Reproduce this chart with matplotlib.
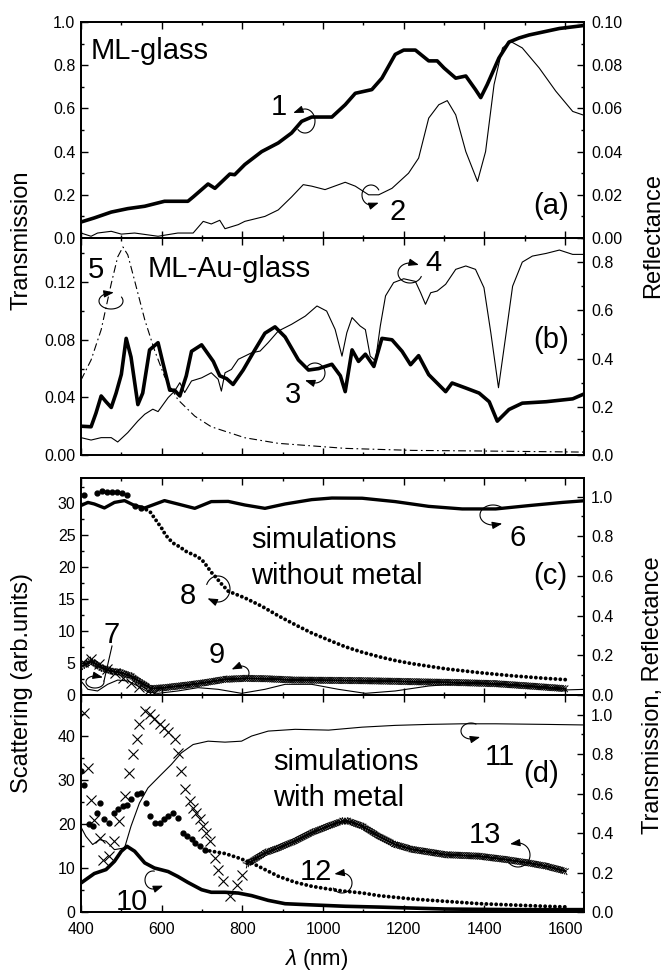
import numpy as np
import matplotlib
matplotlib.use("Agg")
import matplotlib.pyplot as plt
import matplotlib.patheffects as pe
from matplotlib.ticker import MultipleLocator, FormatStrFormatter
from matplotlib.patches import FancyArrowPatch
from matplotlib.path import Path
from matplotlib.lines import Line2D

plt.rcParams["font.family"] = ["Liberation Sans", "DejaVu Sans"]
plt.rcParams["mathtext.fontset"] = "custom"
plt.rcParams["mathtext.rm"] = "Liberation Sans"
plt.rcParams["mathtext.it"] = "Liberation Sans:italic"

# ---- (a) ML-glass ----
a1_nm = [400, 433, 475, 516, 558, 607, 665, 678, 715, 732, 769, 781, 806, 848, 889, 922, 947, 972, 1022, 1055,
         1080, 1121, 1146, 1179, 1200, 1229, 1262, 1283, 1300, 1329, 1354, 1378, 1391, 1407, 1436, 1461, 1486,
         1511, 1536, 1586, 1652]
a1_T = [0.074, 0.093, 0.12, 0.136, 0.147, 0.17, 0.17, 0.19, 0.25, 0.23, 0.296, 0.293, 0.34, 0.40, 0.44, 0.486,
        0.54, 0.56, 0.56, 0.617, 0.67, 0.687, 0.74, 0.85, 0.87, 0.87, 0.82, 0.82, 0.787, 0.74, 0.75, 0.687, 0.65,
        0.71, 0.833, 0.907, 0.926, 0.94, 0.95, 0.97, 0.985]
a2_nm = [400, 425, 441, 475, 500, 533, 591, 640, 678, 703, 723, 744, 757, 790, 806, 856, 889, 922, 951, 972,
         1005, 1055, 1080, 1113, 1138, 1171, 1212, 1237, 1262, 1287, 1308, 1329, 1354, 1383, 1403, 1424, 1445,
         1465, 1494, 1536, 1577, 1619, 1644]
a2_R = [0.0023, 0.0008, 0.0023, 0.0031, 0.0018, 0.0023, 0.0008, 0.0023, 0.0023, 0.0077, 0.0065, 0.0082, 0.0043,
        0.0062, 0.0077, 0.010, 0.013, 0.019, 0.0247, 0.024, 0.0224, 0.0258, 0.024, 0.020, 0.020, 0.023, 0.030,
        0.037, 0.0555, 0.0617, 0.0636, 0.057, 0.040, 0.0262, 0.040, 0.071, 0.088, 0.091, 0.088, 0.0787, 0.068,
        0.0586, 0.057]

# ---- (b) ML-Au-glass ----
b3_nm = [400, 425, 437, 450, 462, 475, 487, 500, 512, 524, 541, 553, 570, 591, 603, 620, 632, 645, 661, 674,
         699, 728, 744, 761, 777, 802, 831, 856, 881, 906, 939, 964, 989, 1022, 1043, 1055, 1072, 1088, 1105,
         1126, 1146, 1171, 1196, 1217, 1237, 1262, 1304, 1320, 1354, 1387, 1412, 1432, 1461, 1494, 1553, 1619,
         1652]
b3_T = [0.020, 0.0196, 0.029, 0.041, 0.037, 0.033, 0.043, 0.056, 0.081, 0.068, 0.035, 0.043, 0.073, 0.078,
        0.064, 0.045, 0.045, 0.041, 0.055, 0.072, 0.0765, 0.065, 0.055, 0.053, 0.049, 0.059, 0.073, 0.0846,
        0.089, 0.082, 0.066, 0.059, 0.060, 0.063, 0.055, 0.044, 0.073, 0.065, 0.070, 0.0615, 0.081, 0.080,
        0.072, 0.0627, 0.069, 0.0558, 0.044, 0.050, 0.0465, 0.043, 0.037, 0.0235, 0.0316, 0.036, 0.037, 0.039,
        0.043]
b4_nm = [400, 425, 450, 475, 491, 516, 541, 558, 578, 591, 616, 632, 645, 657, 674, 699, 723, 740, 748, 757,
         773, 790, 806, 823, 844, 864, 889, 922, 956, 985, 1009, 1030, 1047, 1059, 1072, 1092, 1105, 1117, 1130,
         1142, 1155, 1175, 1200, 1229, 1242, 1254, 1267, 1283, 1304, 1329, 1354, 1378, 1399, 1416, 1435, 1453,
         1470, 1494, 1519, 1553, 1586, 1619, 1652]
b4_R = [0.072, 0.062, 0.072, 0.072, 0.054, 0.093, 0.141, 0.169, 0.19, 0.18, 0.238, 0.265, 0.30, 0.259, 0.307,
        0.32, 0.341, 0.314, 0.265, 0.341, 0.355, 0.397, 0.41, 0.424, 0.431, 0.466, 0.514, 0.542, 0.576, 0.618,
        0.597, 0.521, 0.41, 0.507, 0.57, 0.535, 0.52, 0.41, 0.39, 0.535, 0.66, 0.715, 0.731, 0.72, 0.673, 0.625,
        0.673, 0.68, 0.708, 0.77, 0.784, 0.77, 0.694, 0.507, 0.279, 0.494, 0.70, 0.80, 0.825, 0.836, 0.85,
        0.832, 0.832]
b5_nm = [400, 425, 450, 475, 491, 504, 516, 533, 558, 582, 607, 640, 682, 723, 806, 889, 1055, 1221, 1387, 1652]
b5_T = [0.052, 0.066, 0.087, 0.119, 0.1376, 0.1445, 0.139, 0.121, 0.094, 0.073, 0.0546, 0.0385, 0.027, 0.0196,
        0.012, 0.0081, 0.0046, 0.0032, 0.0028, 0.002]

# ---- (c) simulations without metal ----
c6_nm = [400, 417, 433, 458, 483, 508, 533, 558, 607, 640, 682, 723, 765, 806, 856, 906, 972, 1022, 1097, 1179,
         1262, 1345, 1428, 1511, 1594, 1652]
c6_T = [0.955, 0.971, 0.963, 0.943, 0.971, 0.98, 0.955, 0.943, 0.98, 0.963, 0.941, 0.975, 0.976, 0.958, 0.941,
        0.963, 0.985, 0.993, 0.992, 0.975, 0.951, 0.938, 0.938, 0.955, 0.971, 0.98]
c7_nm = [400, 417, 441, 466, 491, 516, 541, 566, 591, 640, 690, 740, 798, 856, 906, 972, 1038, 1105, 1179, 1262,
         1345, 1428, 1511, 1594, 1652]
c7_S = [2.19, 0.89, 0.63, 1.67, 2.34, 2.19, 1.41, 0.47, 0.26, 0.63, 1.15, 0.89, 0.26, 0.89, 1.67, 1.67, 0.89,
        0.26, 0.63, 1.41, 1.82, 1.67, 1.30, 0.78, 0.89]
c8_sparse_nm = [407, 440, 451, 465, 477, 490, 502, 514, 533, 549]
c8_sparse_S = [31.25, 31.6, 31.9, 31.8, 31.7, 31.7, 31.6, 31.25, 29.5, 29.2]
c8_nm = [562, 572, 582, 591, 601, 609, 620, 632, 645, 655, 665, 678, 689, 699, 707, 715, 723, 732, 740, 748,
         757, 765, 806, 848, 889, 931, 972, 1014, 1055, 1097, 1138, 1179, 1221, 1304, 1387, 1470, 1553, 1602]
c8_S = [29.0, 28.6, 27.7, 26.9, 26.0, 25.1, 24.3, 23.6, 23.2, 22.7, 22.3, 22.0, 21.6, 21.2, 20.6, 19.9, 19.2,
        18.6, 18.0, 17.4, 16.8, 16.25, 15.2, 13.9, 12.4, 11.0, 9.7, 8.6, 7.55, 6.7, 6.0, 5.4, 4.9, 4.1, 3.5, 3.0,
        2.6, 2.4]
c9_nm = [404, 425, 450, 475, 500, 524, 549, 574, 607, 657, 707, 757, 806, 856, 931, 1014, 1097, 1179, 1262, 1345,
         1428, 1511, 1602]
c9_S = [4.53, 5.31, 4.27, 3.75, 3.49, 2.97, 1.93, 0.99, 1.15, 1.51, 1.93, 2.45, 2.60, 2.55, 2.34, 2.29, 2.24,
        2.14, 2.03, 1.93, 1.77, 1.41, 0.99]
c9_sparse_nm = [405, 425, 445, 465, 485, 505, 525, 545, 565, 580]
c9_sparse_S = [5.2, 5.6, 4.9, 4.1, 3.4, 2.6, 1.9, 1.2, 0.6, 0.3]

# ---- (d) simulations with metal ----
d10_nm = [400, 433, 462, 483, 500, 514, 533, 558, 582, 616, 640, 665, 699, 723, 757, 790, 823, 864, 906, 972,
          1055, 1138, 1221, 1304, 1470, 1594, 1652]
d10_R = [0.147, 0.195, 0.215, 0.257, 0.308, 0.333, 0.308, 0.249, 0.223, 0.205, 0.18, 0.15, 0.113, 0.10, 0.10,
         0.096, 0.083, 0.059, 0.042, 0.036, 0.029, 0.025, 0.02, 0.015, 0.012, 0.012, 0.012]
d11_nm = [400, 412, 429, 446, 462, 483, 508, 524, 545, 566, 595, 624, 649, 678, 715, 757, 798, 823, 864, 931,
          1014, 1097, 1179, 1262, 1345, 1428, 1553, 1652]
d11_T = [0.43, 0.384, 0.342, 0.367, 0.359, 0.316, 0.325, 0.435, 0.553, 0.629, 0.689, 0.748, 0.807, 0.849, 0.866,
         0.861, 0.866, 0.892, 0.917, 0.926, 0.922, 0.937, 0.946, 0.951, 0.954, 0.954, 0.951, 0.948]
d12_sparse_nm = [400, 408, 421, 429, 440, 448, 458, 470, 483, 491, 504, 514, 524, 539, 549, 562, 570, 584, 595,
                 606, 616, 628, 640, 653, 664, 674, 682, 694, 707]
d12_sparse_S = [31.97, 28.7, 19.85, 19.47, 22.5, 24.77, 20.98, 20.08, 22.5, 23.26, 24.02, 24.17, 25.53, 26.67,
                27.05, 24.77, 21.74, 20.23, 20.23, 20.98, 21.74, 22.5, 21.36, 17.95, 17.2, 16.44, 15.68, 14.92,
                14.02]
d12_nm = [707, 723, 757, 790, 823, 856, 889, 931, 972, 1022, 1055, 1097, 1138, 1221, 1304, 1387, 1470, 1553, 1602]
d12_S = [14.02, 13.79, 13.26, 12.27, 11.14, 9.62, 8.11, 6.74, 5.83, 5.08, 4.70, 4.32, 3.71, 2.95, 2.42, 1.89,
         1.59, 1.29, 1.14]
d13_sparse_nm = [408, 417, 425, 433, 446, 454, 470, 483, 495, 508, 520, 529, 539, 545, 558, 570, 582, 595, 607,
                 616, 632, 640, 649, 657, 669, 678, 686, 694, 703, 711, 719, 732, 740, 752, 769, 786, 798]
d13_sparse_S = [45.2, 32.7, 25.5, 20.8, 16.8, 11.9, 12.7, 16.1, 20.6, 26.3, 31.6, 35.8, 39.2, 42.6, 45.6, 44.8,
                43.7, 42.6, 41.8, 40.7, 39.2, 36.1, 32.0, 27.8, 25.2, 23.6, 22.5, 21.0, 19.5, 18.0, 16.1, 12.3,
                9.6, 7.0, 3.6, 6.2, 8.5]
d13_nm = [810, 856, 889, 931, 972, 1014, 1047, 1063, 1097, 1138, 1179, 1221, 1304, 1387, 1453, 1511, 1553, 1602]
d13_S = [10.8, 13.4, 14.5, 16.1, 18.0, 19.5, 20.6, 20.6, 19.5, 17.2, 15.3, 14.2, 13.0, 12.65, 11.9, 11.1, 10.4,
         9.24]

W, H = 666, 975
fig = plt.figure(figsize=(W / 100, H / 100), dpi=100)


def panel(top, bottom):
    return fig.add_axes([81 / W, 1 - bottom / H, 503 / W, (bottom - top) / H])


def fmt(ax, tw, ylim, tylim, maj, mnr, tmaj, tmnr, lf, rf, xlabels=False):
    ax.set_xlim(400, 1647)
    ax.set_ylim(*ylim)
    tw.set_ylim(*tylim)
    ax.xaxis.set_major_locator(MultipleLocator(200))
    ax.xaxis.set_minor_locator(MultipleLocator(100))
    ax.yaxis.set_major_locator(MultipleLocator(maj))
    ax.yaxis.set_minor_locator(MultipleLocator(mnr))
    tw.yaxis.set_major_locator(MultipleLocator(tmaj))
    tw.yaxis.set_minor_locator(MultipleLocator(tmnr))
    ax.yaxis.set_major_formatter(FormatStrFormatter(lf))
    tw.yaxis.set_major_formatter(FormatStrFormatter(rf))
    ax.tick_params(which="both", direction="in", top=True, bottom=True, right=False, width=1,
                   labelbottom=xlabels, labelsize=11.5, pad=4)
    ax.tick_params(axis="x", pad=7)
    tw.tick_params(which="both", direction="in", right=True, left=False, width=1, labelsize=11.5, pad=5)
    for a in (ax, tw):
        a.tick_params(which="major", length=5)
        a.tick_params(which="minor", length=2.5)
        for s in a.spines.values():
            s.set_linewidth(1.3)


ax_a = panel(22, 238)
ax_b = panel(238, 455)
ax_c = panel(478, 695)
ax_d = panel(695, 912)
tw_a, tw_b, tw_c, tw_d = ax_a.twinx(), ax_b.twinx(), ax_c.twinx(), ax_d.twinx()

fmt(ax_a, tw_a, (0, 1.0), (0, 0.1), 0.2, 0.1, 0.02, 0.01, "%.1f", "%.2f")
fmt(ax_b, tw_b, (0, 0.1507), (0, 0.9), 0.04, 0.02, 0.2, 0.1, "%.2f", "%.1f")
fmt(ax_c, tw_c, (0, 33.96), (0, 1.094), 5, 2.5, 0.2, 0.1, "%d", "%.1f")
fmt(ax_d, tw_d, (0, 49.2), (0, 1.10), 10, 5, 0.2, 0.1, "%d", "%.1f", xlabels=True)

thick, thin = 2.6, 0.8
dotted = dict(color="k", lw=2.8, ls=(0, (0.01, 1.25)), dash_capstyle="round")
cross_fx = [pe.withTickedStroke(angle=a, spacing=1.6, length=1.9) for a in (45, -135, 135, -45)]

ax_a.plot(a1_nm, a1_T, color="k", lw=thick)
tw_a.plot(a2_nm, a2_R, color="k", lw=thin)

ax_b.plot(b3_nm, b3_T, color="k", lw=thick)
tw_b.plot(b4_nm, b4_R, color="k", lw=thin)
ax_b.plot(b5_nm, b5_T, color="k", lw=thin, ls=(0, (7, 3, 1.5, 3)))

tw_c.plot(c6_nm, c6_T, color="k", lw=2.4)
ax_c.plot(c7_nm, c7_S, color="k", lw=thin)
ax_c.plot(c8_sparse_nm, c8_sparse_S, "o", color="k", ms=3.5)
ax_c.plot(c8_nm, c8_S, **dotted)
ax_c.plot(c9_nm, c9_S, color="k", lw=0.7, path_effects=cross_fx)
ax_c.plot(c9_sparse_nm, c9_sparse_S, "x", color="k", ms=6.5, mew=0.8)

tw_d.plot(d10_nm, d10_R, color="k", lw=thick)
tw_d.plot(d11_nm, d11_T, color="k", lw=thin)
ax_d.plot(d12_sparse_nm, d12_sparse_S, "o", color="k", ms=3.5)
ax_d.plot(d12_nm, d12_S, **dotted)
ax_d.plot(d13_sparse_nm, d13_sparse_S, "x", color="k", ms=7, mew=0.8)
ax_d.plot(d13_nm, d13_S, color="k", lw=0.7, path_effects=cross_fx)


def ftext(x, y, s, **kw):
    fig.text(x / W, 1 - y / H, s, **kw)


def curl(cx, cy, rx, ry, a0, a1, ext=6):
    t = np.radians(np.linspace(a0, a1, 60))
    xs = list(cx + rx * np.cos(t))
    ys = list(cy - ry * np.sin(t))
    dx, dy = xs[-1] - xs[-2], ys[-1] - ys[-2]
    n = np.hypot(dx, dy)
    xs.append(xs[-1] + ext * dx / n)
    ys.append(ys[-1] + ext * dy / n)
    verts = np.column_stack([np.array(xs) / W, 1 - np.array(ys) / H])
    fig.patches.append(FancyArrowPatch(path=Path(verts), transform=fig.transFigure,
                                       arrowstyle="-|>,head_length=0.6,head_width=0.22",
                                       mutation_scale=10, lw=0.8, color="k"))


curl(305, 121, 10, 12, 225, 470, 9)
curl(371, 195, 9, 10, 30, 290, 5)
curl(315, 373, 10, 10, 150, -110, 7)
curl(410, 273, 12, 10, -20, -290, 5)
curl(111, 301, 12, 8, 30, -260, 5)
curl(493, 515, 13, 10, 40, 285, 6)
curl(95, 682, 9, 6, 10, -290, 5)
fig.lines.append(Line2D([112 / W, 104 / W], [1 - 646 / H, 1 - 681 / H], transform=fig.transFigure,
                        color="k", lw=0.8))
curl(218, 589, 12, 13, 160, -115, 6)
curl(241, 673, 8, 7, -70, 120, 6)
curl(153, 880, 8, 9, 80, 290, 8)
curl(471, 731, 10, 8, 60, 290, 6)
curl(342, 883, 10, 10, 210, 460, 6)
curl(518, 855, 12, 12, 220, 460, 6)

big = 21
for s, x, y in [("1", 279, 115), ("2", 398, 220), ("3", 293, 403), ("4", 433, 271), ("5", 96, 278),
                ("6", 518, 546), ("7", 112, 643), ("8", 188, 604), ("9", 217, 663), ("10", 132, 910),
                ("11", 500, 765), ("12", 316, 880), ("13", 485, 843)]:
    ftext(x, y, s, ha="center", va="baseline", fontsize=big)

for s, x, y in [("(a)", 551, 214), ("(b)", 551, 348), ("(c)", 550, 584), ("(d)", 541, 782)]:
    ftext(x, y, s, ha="center", va="baseline", fontsize=big)

ftext(91, 59, "ML-glass", ha="left", va="baseline", fontsize=big)
ftext(148, 277, "ML-Au-glass", ha="left", va="baseline", fontsize=big)
ftext(251, 548, "simulations", ha="left", va="baseline", fontsize=big)
ftext(251, 584, "without metal", ha="left", va="baseline", fontsize=big)
ftext(273, 770, "simulations", ha="left", va="baseline", fontsize=big)
ftext(273, 806, "with metal", ha="left", va="baseline", fontsize=big)

lab = 17
ftext(22, 240, "Transmission", rotation=90, ha="center", va="center", fontsize=lab)
ftext(653, 235, "Reflectance", rotation=90, ha="center", va="center", fontsize=lab)
ftext(22, 683, "Scattering (arb.units)", rotation=90, ha="center", va="center", fontsize=lab)
ftext(653, 695, "Transmission, Reflectance", rotation=90, ha="center", va="center", fontsize=lab)
ftext(316, 959, r"$\lambda$ (nm)", ha="center", va="center", fontsize=16)

fig.savefig("out.png", dpi=100)
